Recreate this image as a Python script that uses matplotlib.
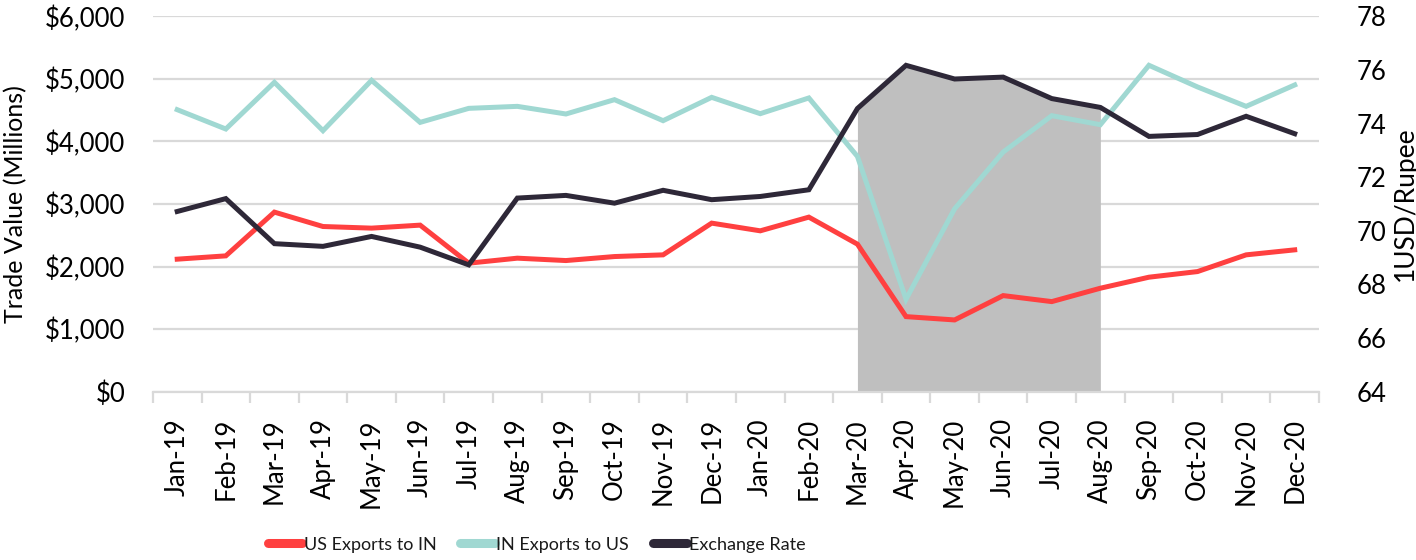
import numpy as np
import matplotlib
matplotlib.use('Agg')
import matplotlib.pyplot as plt
from matplotlib import font_manager
from matplotlib.ticker import FuncFormatter, MultipleLocator

# ---- data ----
months = ['Jan-19', 'Feb-19', 'Mar-19', 'Apr-19', 'May-19', 'Jun-19',
          'Jul-19', 'Aug-19', 'Sep-19', 'Oct-19', 'Nov-19', 'Dec-19',
          'Jan-20', 'Feb-20', 'Mar-20', 'Apr-20', 'May-20', 'Jun-20',
          'Jul-20', 'Aug-20', 'Sep-20', 'Oct-20', 'Nov-20', 'Dec-20']

us_exports_to_in = [2118, 2171, 2870, 2640, 2614, 2662, 2054, 2134,
                    2096, 2160, 2187, 2694, 2571, 2790, 2358, 1200,
                    1147, 1536, 1440, 1654, 1830, 1920, 2187, 2267]

in_exports_to_us = [4507, 4198, 4944, 4171, 4976, 4304, 4528, 4560,
                    4438, 4667, 4331, 4704, 4443, 4694, 3760, 1478,
                    2923, 3830, 4411, 4267, 5216, 4870, 4560, 4902]

exchange_rate = [70.72, 71.20, 69.52, 69.42, 69.79, 69.39, 68.73, 71.22,
                 71.32, 71.03, 71.51, 71.16, 71.28, 71.53, 74.56, 76.17,
                 75.66, 75.73, 74.93, 74.60, 73.52, 73.59, 74.27, 73.62]

# shaded period: Mar-20 .. Aug-20
shade_start, shade_end = 'Mar-20', 'Aug-20'

RED = '#FF4040'
TEAL = '#A0D8D2'
DARK = '#2E2838'
SHADE = '#BFBFBF'
GRID = '#D9D9D9'
TEXT = '#1A1A1A'

available = {f.name for f in font_manager.fontManager.ttflist}
main_font = 'Lato' if 'Lato' in available else 'DejaVu Sans'

plt.rcParams['font.family'] = [main_font, 'DejaVu Sans']
plt.rcParams['text.color'] = TEXT

x = np.arange(len(months))

fig = plt.figure(figsize=(14.16, 5.6), dpi=100)
ax = fig.add_axes([0.108, 0.3005, 0.8235, 0.6705])
ax2 = ax.twinx()

ax.set_xlim(-0.5, len(months) - 0.5)
ax.set_ylim(0, 6000)
ax2.set_ylim(64, 78)

# gridlines (left axis)
ax.set_axisbelow(True)
ax.yaxis.set_major_locator(MultipleLocator(1000))
ax.grid(axis='y', color=GRID, linewidth=1.6)

# shaded area, drawn in right-axis units but kept under the trade lines
i0, i1 = months.index(shade_start), months.index(shade_end)
xs = x[i0:i1 + 1]
ax.fill_between(xs, 64, exchange_rate[i0:i1 + 1], color=SHADE,
                linewidth=0, zorder=1, transform=ax2.transData)

l1, = ax.plot(x, us_exports_to_in, color=RED, lw=3.6, zorder=3,
              solid_joinstyle='miter', label='US Exports to IN')
l2, = ax.plot(x, in_exports_to_us, color=TEAL, lw=3.6, zorder=3,
              solid_joinstyle='miter', label='IN Exports to US')
l3, = ax2.plot(x, exchange_rate, color=DARK, lw=3.6, zorder=3,
               solid_joinstyle='miter', label='Exchange Rate')

# spines
for a in (ax, ax2):
    for s in ('top', 'left', 'right'):
        a.spines[s].set_visible(False)
    a.spines['bottom'].set_color(GRID)
    a.spines['bottom'].set_linewidth(1.6)
ax2.spines['bottom'].set_visible(False)

# x axis: labels centred, tick marks between categories
ax.set_xticks(x)
ax.set_xticklabels(months, rotation=90, fontsize=18.5)
ax.tick_params(axis='x', which='major', length=0, pad=19)
ax.set_xticks(np.arange(-0.5, len(months), 1.0), minor=True)
ax.tick_params(axis='x', which='minor', length=8, width=1.6, color=GRID)

ax.yaxis.set_major_formatter(FuncFormatter(lambda v, p: '${:,.0f}'.format(v)))
ax.tick_params(axis='y', length=0, pad=20, labelsize=18.5)
ax2.set_yticks(np.arange(64, 79, 2))
ax2.tick_params(axis='y', length=0, pad=27, labelsize=18.5)

ax.set_ylabel('Trade Value (Millions)', fontsize=18)
ax.yaxis.set_label_coords(-0.108, 0.5)
ax2.set_ylabel('1USD/Rupee', fontsize=19, rotation=90)
ax2.yaxis.set_label_coords(1.0635, 0.5)

leg = fig.legend(handles=[l1, l2, l3], loc='lower center',
                 bbox_to_anchor=(0.379, -0.016), ncol=3, frameon=False,
                 prop={'size': 13},
                 handlelength=1.9, handletextpad=0.1, columnspacing=1.3)
for h in leg.get_lines():
    h.set_linewidth(6.5)
    h.set_solid_capstyle('round')

fig.savefig('out.png', dpi=100)
